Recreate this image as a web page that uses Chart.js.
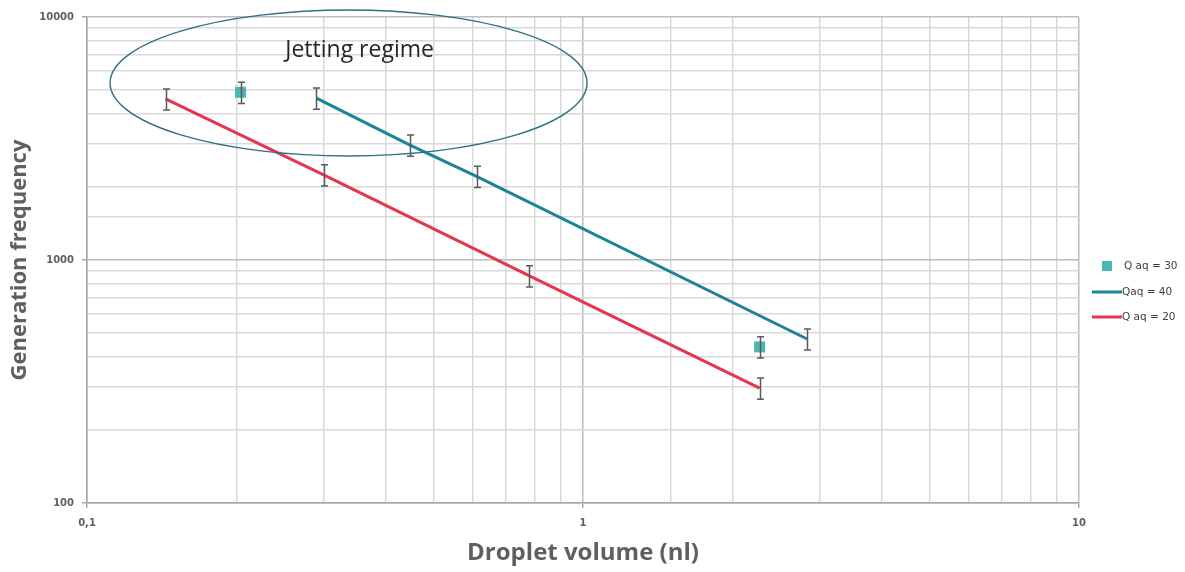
<!DOCTYPE html>
<html>
<head>
<meta charset="utf-8">
<script src="https://cdn.jsdelivr.net/npm/chart.js@4.4.1/dist/chart.umd.min.js"></script>
<style>
  html, body { margin: 0; padding: 0; background: #ffffff; }
  #wrap { width: 1185px; height: 572px; position: relative; }
</style>
</head>
<body>
<div id="wrap"><canvas id="c" width="1185" height="572"></canvas></div>
<script>
// ---- Data ----
const seriesLabels = ['Q aq = 30', 'Qaq = 40', 'Q aq = 20'];

// Q aq = 30 (squares)
const q30X   = [0.204, 2.27];
const q30Y   = [4900, 439];
const q30Err = [490, 44];

// Qaq = 40 (blue line)
const q40X   = [0.29, 0.448, 0.61, 2.83];
const q40Y   = [4640, 2970, 2210, 473];
const q40Err = [464, 297, 221, 47];

// Q aq = 20 (red line)
const q20X   = [0.144, 0.30, 0.78, 2.27];
const q20Y   = [4600, 2240, 860, 297];
const q20Err = [460, 224, 86, 30];

// Axis ranges / labels
const xRange = [0.1, 10];
const yRange = [100, 10000];
const xTitle = 'Droplet volume (nl)';
const yTitle = 'Generation frequency';

// Annotation ("Jetting regime" ellipse), in data units
const ellipseX = [0.1113, 1.019];
const ellipseY = [2680, 10680];
const annotText = 'Jetting regime';
const annotAt = [0.251, 7250];

// ---- helpers ----
const zip = (xs, ys) => xs.map((x, i) => ({ x: x, y: ys[i] }));
const isMajor = v => Math.abs(Math.log10(v) - Math.round(Math.log10(v))) < 1e-6;
const fmt = v => String(+v.toPrecision(6)).replace('.', ',');

const COL_RED = '#E5354F';
const COL_BLUE = '#1C8399';
const COL_SQ = '#4DB6AE';

const errorBars = {
  id: 'errorBars',
  afterDatasetsDraw(chart) {
    const ctx = chart.ctx;
    const xs = chart.scales.x, ys = chart.scales.y;
    ctx.save();
    ctx.strokeStyle = '#5a5a5a';
    ctx.lineWidth = 1.5;
    chart.data.datasets.forEach(ds => {
      (ds.errors || []).forEach((e, i) => {
        const p = ds.data[i];
        const px = Math.round(xs.getPixelForValue(p.x)) + 0.5;
        const top = ys.getPixelForValue(p.y + e);
        const bot = ys.getPixelForValue(p.y - e);
        ctx.beginPath();
        ctx.moveTo(px, top); ctx.lineTo(px, bot);
        ctx.moveTo(px - 3.5, top); ctx.lineTo(px + 3.5, top);
        ctx.moveTo(px - 3.5, bot); ctx.lineTo(px + 3.5, bot);
        ctx.stroke();
      });
    });
    ctx.restore();
  }
};

const annotation = {
  id: 'annotation',
  afterDraw(chart) {
    const ctx = chart.ctx;
    const xs = chart.scales.x, ys = chart.scales.y;
    const l = xs.getPixelForValue(ellipseX[0]), r = xs.getPixelForValue(ellipseX[1]);
    const t = ys.getPixelForValue(ellipseY[1]), b = ys.getPixelForValue(ellipseY[0]);
    ctx.save();
    ctx.strokeStyle = '#2D7080';
    ctx.lineWidth = 1.4;
    ctx.beginPath();
    ctx.ellipse((l + r) / 2, (t + b) / 2, (r - l) / 2, (b - t) / 2, 0, 0, Math.PI * 2);
    ctx.stroke();
    ctx.fillStyle = '#262626';
    ctx.font = '23px "Open Sans"';
    ctx.textBaseline = 'middle';
    ctx.textAlign = 'left';
    ctx.fillText(annotText, xs.getPixelForValue(annotAt[0]), ys.getPixelForValue(annotAt[1]));
    ctx.restore();
  }
};

const legendPlugin = {
  id: 'customLegend',
  afterDraw(chart) {
    const ctx = chart.ctx;
    const ca = chart.chartArea;
    const x0 = ca.right + 12;
    const yc = (ca.top + ca.bottom) / 2;
    const rows = [yc + 6, yc + 32, yc + 57];
    ctx.save();
    ctx.font = '10.5px "DejaVu Sans"';
    ctx.fillStyle = '#404040';
    ctx.textBaseline = 'middle';
    chart.data.datasets.forEach((ds, i) => {
      const y = rows[i];
      if (ds.showLine === false) {
        ctx.fillStyle = ds.backgroundColor;
        ctx.fillRect(x0 + 11, y - 5, 10, 10);
        ctx.fillStyle = '#404040';
        ctx.fillText(ds.label, x0 + 33, y);
      } else {
        ctx.strokeStyle = ds.borderColor;
        ctx.lineWidth = 3;
        ctx.beginPath();
        ctx.moveTo(x0 + 1, y); ctx.lineTo(x0 + 31, y);
        ctx.stroke();
        ctx.fillText(ds.label, x0 + 31, y);
      }
    });
    ctx.restore();
  }
};

const gridColor = c => (c.tick && isMajor(c.tick.value)) ? '#bdbdbd' : '#d9d9d9';
const tickColor = c => (c.tick && isMajor(c.tick.value)) ? '#a6a6a6' : 'rgba(0,0,0,0)';
const tickFont = { family: '"DejaVu Sans"', size: 10, weight: 'bold' };

new Chart(document.getElementById('c'), {
  type: 'scatter',
  data: {
    datasets: [
      {
        label: seriesLabels[0], data: zip(q30X, q30Y), errors: q30Err,
        showLine: false, pointStyle: 'rect', pointRadius: 7.8, pointHoverRadius: 7.8,
        backgroundColor: COL_SQ, borderColor: COL_SQ, borderWidth: 0, order: 0
      },
      {
        label: seriesLabels[1], data: zip(q40X, q40Y), errors: q40Err,
        showLine: true, borderColor: COL_BLUE, backgroundColor: COL_BLUE,
        borderWidth: 3, pointRadius: 0, order: 1
      },
      {
        label: seriesLabels[2], data: zip(q20X, q20Y), errors: q20Err,
        showLine: true, borderColor: COL_RED, backgroundColor: COL_RED,
        borderWidth: 3, pointRadius: 0, order: 2
      }
    ]
  },
  options: {
    responsive: false,
    animation: false,
    events: [],
    layout: { padding: { top: 17, right: 106, left: 0, bottom: 0 } },
    plugins: { legend: { display: false }, tooltip: { enabled: false } },
    scales: {
      x: {
        type: 'logarithmic', min: xRange[0], max: xRange[1],
        afterFit: s => { s.height = 69; },
        border: { display: true, color: '#a6a6a6', width: 1.5 },
        grid: { color: gridColor, lineWidth: 1.5, drawTicks: true, tickLength: 5, tickColor: tickColor, tickWidth: 1.5 },
        ticks: {
          autoSkip: false, maxRotation: 0, padding: 9, color: '#606060', font: tickFont,
          callback: v => isMajor(v) ? fmt(v) : ''
        },
        title: {
          display: true, text: xTitle, color: '#5f5f5f',
          font: { family: '"Open Sans"', size: 24, weight: 'bold' }, padding: { bottom: 4 }
        }
      },
      y: {
        type: 'logarithmic', min: yRange[0], max: yRange[1],
        afterFit: s => { s.width = 87; },
        border: { display: true, color: '#a6a6a6', width: 1.5 },
        grid: { color: gridColor, lineWidth: 1.5, drawTicks: true, tickLength: 5, tickColor: tickColor, tickWidth: 1.5 },
        ticks: {
          autoSkip: false, padding: 8, color: '#606060', font: tickFont,
          callback: v => isMajor(v) ? fmt(v) : ''
        },
        title: {
          display: true, text: yTitle, color: '#5f5f5f',
          font: { family: '"Open Sans"', size: 22, weight: 'bold' }, padding: { top: 7 }
        }
      }
    }
  },
  plugins: [errorBars, annotation, legendPlugin]
});
</script>
</body>
</html>
